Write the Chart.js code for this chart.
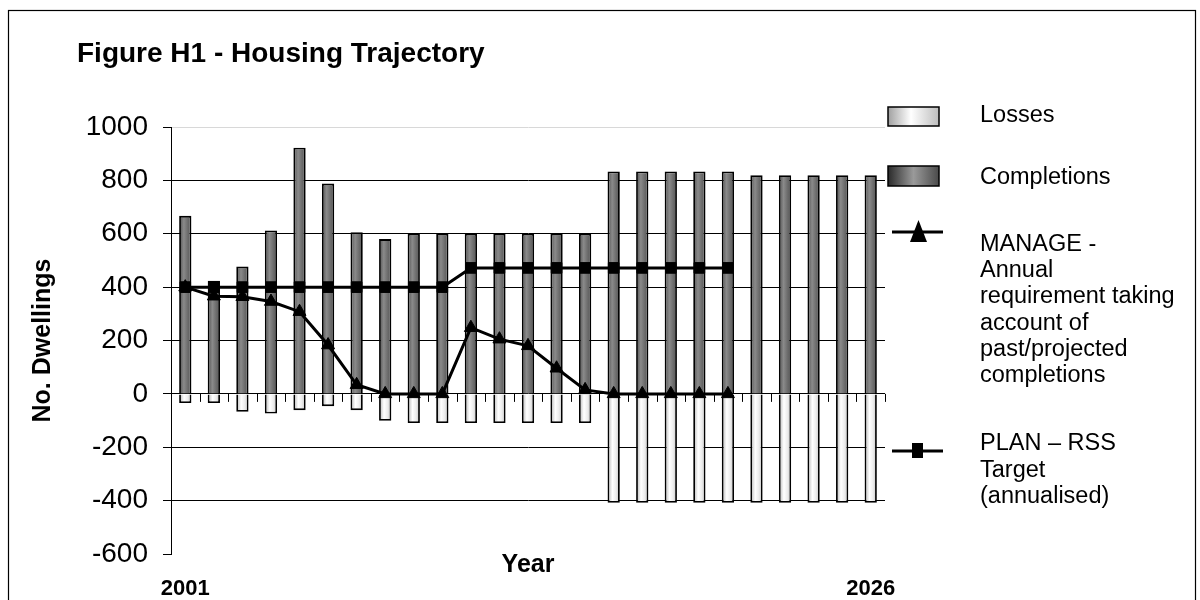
<!DOCTYPE html>
<html>
<head>
<meta charset="utf-8">
<title>Figure H1 - Housing Trajectory</title>
<script src="https://cdn.jsdelivr.net/npm/chart.js@4.4.1/dist/chart.umd.min.js"></script>
<style>
  html, body { margin: 0; padding: 0; background: #fff; }
  #wrap { width: 1200px; height: 600px; }
</style>
</head>
<body>
<div id="wrap"><canvas id="chart" width="1200" height="600"></canvas></div>
<script>
// monitoring years 2001/02 .. 2025/26
const years = [
  '2001/02', '2002/03', '2003/04', '2004/05', '2005/06', '2006/07', '2007/08',
  '2008/09', '2009/10', '2010/11', '2011/12', '2012/13', '2013/14', '2014/15',
  '2015/16', '2016/17', '2017/18', '2018/19', '2019/20', '2020/21', '2021/22',
  '2022/23', '2023/24', '2024/25', '2025/26'
];
// only the two ends are labelled on the chart
const yearTicks = [
  '2001', '', '', '', '', '', '', '', '', '', '', '', '',
  '', '', '', '', '', '', '', '', '', '', '', '2026'
];

const completions = [
  667, 424, 477, 612, 922, 788, 606, 580, 600, 600, 600, 600, 600,
  600, 600, 833, 833, 833, 833, 833, 819, 819, 819, 819, 819
];
const losses = [
  -34, -34, -67, -74, -61, -46, -61, -101, -109, -109, -109, -109, -109,
  -109, -109, -408, -408, -408, -408, -408, -408, -408, -408, -408, -408
];
const manage = [
  400, 366, 364, 346, 308, 183, 34, 0, 0, 0, 248, 205, 180,
  96, 15, 0, 0, 0, 0, 0, null, null, null, null, null
];
const plan = [
  400, 400, 400, 400, 400, 400, 400, 400, 400, 400, 472, 472, 472,
  472, 472, 472, 472, 472, 472, 472, null, null, null, null, null
];

const yMin = -600;
const yMax = 1000;
const yStep = 200;

const manageLines = ['MANAGE -', 'Annual', 'requirement taking', 'account of', 'past/projected', 'completions'];
const planLines = ['PLAN \u2013 RSS', 'Target', '(annualised)'];

const FONT = "'Liberation Sans', Arial, Helvetica, sans-serif";
const BAR_FRACTION = 0.43;

const compStops = [[0, '#505050'], [0.38, '#8a8a8a'], [0.7, '#6c6c6c'], [1, '#555555']];
const lossStops = [[0, '#b0b0b0'], [0.4, '#ffffff'], [0.7, '#ececec'], [1, '#c0c0c0']];

Chart.defaults.font.family = FONT;
Chart.defaults.color = '#000';

function barFill(stops, fallback) {
  return function (ctx) {
    const chart = ctx.chart;
    const xs = chart.scales.x;
    if (ctx.type !== 'data' || !xs) return fallback;
    const cx = xs.getPixelForValue(ctx.dataIndex);
    const half = (xs.width / years.length) * BAR_FRACTION / 2;
    if (!isFinite(cx) || !isFinite(half) || half <= 0) return fallback;
    const g = chart.ctx.createLinearGradient(cx - half, 0, cx + half, 0);
    stops.forEach(([p, col]) => g.addColorStop(p, col));
    return g;
  };
}

// frame, title and small tick marks on the zero line
const decorations = {
  id: 'decorations',
  beforeDatasetsDraw(chart) {
    const c = chart.ctx;
    const xs = chart.scales.x;
    const y0 = chart.scales.y.getPixelForValue(0);
    const step = xs.width / years.length;
    c.save();
    c.strokeStyle = '#000';
    c.lineWidth = 1;
    c.beginPath();
    for (let i = 1; i <= years.length; i++) {
      const x = Math.round(xs.left + i * step) + 0.5;
      c.moveTo(x, y0);
      c.lineTo(x, y0 + 8);
    }
    c.stroke();
    c.restore();
  },
  afterDraw(chart) {
    const c = chart.ctx;
    c.save();
    c.strokeStyle = '#000';
    c.lineWidth = 1.2;
    c.strokeRect(8.5, 10.5, 1187, 640);
    c.fillStyle = '#000';
    c.font = 'bold 28px ' + FONT;
    c.textBaseline = 'alphabetic';
    c.textAlign = 'left';
    c.fillText('Figure H1 - Housing Trajectory', 77, 62);
    c.restore();
  }
};

function swatch(c, x, y, w, h, stops) {
  const g = c.createLinearGradient(x, 0, x + w, 0);
  stops.forEach(([p, col]) => g.addColorStop(p, col));
  c.fillStyle = g;
  c.fillRect(x, y, w, h);
  c.lineWidth = 1.5;
  c.strokeStyle = '#000';
  c.strokeRect(x, y, w, h);
}

const sideLegend = {
  id: 'sideLegend',
  afterDraw(chart) {
    const c = chart.ctx;
    c.save();
    swatch(c, 888, 107, 51, 19, [[0, '#a0a0a0'], [0.45, '#ffffff'], [1, '#bdbdbd']]);
    swatch(c, 888, 166, 51, 20, [[0, '#2a2a2a'], [0.5, '#9a9a9a'], [1, '#4a4a4a']]);

    // MANAGE marker
    c.strokeStyle = '#000';
    c.fillStyle = '#000';
    c.lineWidth = 3;
    c.beginPath();
    c.moveTo(892, 232);
    c.lineTo(943, 232);
    c.stroke();
    c.beginPath();
    c.moveTo(918.5, 220);
    c.lineTo(927, 242);
    c.lineTo(910, 242);
    c.closePath();
    c.fill();

    // PLAN marker
    c.beginPath();
    c.moveTo(892, 451);
    c.lineTo(943, 451);
    c.stroke();
    c.fillRect(912, 443, 11, 15);

    c.font = '23.5px ' + FONT;
    c.textAlign = 'left';
    c.textBaseline = 'middle';
    c.fillText('Losses', 980, 116);
    c.fillText('Completions', 980, 178);
    manageLines.forEach((t, i) => c.fillText(t, 980, 244.5 + i * 26.2));
    planLines.forEach((t, i) => c.fillText(t, 980, 443.5 + i * 26.7));
    c.restore();
  }
};

new Chart(document.getElementById('chart'), {
  type: 'bar',
  data: {
    labels: years,
    datasets: [
      {
        type: 'line',
        label: 'MANAGE - Annual requirement taking account of past/projected completions',
        data: manage,
        borderColor: '#000',
        borderWidth: 3,
        pointStyle: 'triangle',
        pointRadius: 7.5,
        pointBackgroundColor: '#000',
        pointBorderColor: '#000',
        pointBorderWidth: 1,
        tension: 0,
        order: 1,
      },
      {
        type: 'line',
        label: 'PLAN \u2013 RSS Target (annualised)',
        data: plan,
        borderColor: '#000',
        borderWidth: 3,
        pointStyle: 'rect',
        pointRadius: 7.5,
        pointBackgroundColor: '#000',
        pointBorderColor: '#000',
        pointBorderWidth: 1,
        tension: 0,
        order: 2,
      },
      {
        label: 'Completions',
        data: completions,
        grouped: false,
        backgroundColor: barFill(compStops, '#707070'),
        borderColor: '#000',
        borderWidth: 1.8,
        categoryPercentage: BAR_FRACTION,
        barPercentage: 1,
        order: 3,
      },
      {
        label: 'Losses',
        data: losses,
        grouped: false,
        backgroundColor: barFill(lossStops, '#e8e8e8'),
        borderColor: '#000',
        borderWidth: 1.8,
        categoryPercentage: BAR_FRACTION,
        barPercentage: 1,
        order: 4,
      },
    ],
  },
  options: {
    responsive: false,
    animation: false,
    layout: { padding: { top: 127, right: 315, bottom: 0, left: 0 } },
    plugins: {
      legend: { display: false },
      title: { display: false },
      tooltip: { enabled: false },
    },
    scales: {
      x: {
        type: 'category',
        offset: true,
        weight: 0,
        grid: { display: false },
        border: { display: false },
        ticks: { display: false },
        title: {
          display: true,
          text: 'Year',
          font: { size: 25, weight: 'bold', lineHeight: 1 },
          padding: { top: 0, bottom: 0 },
        },
        afterFit(scale) { scale.height = 24; },
      },
      x2: {
        type: 'category',
        labels: yearTicks,
        offset: true,
        weight: 1,
        position: 'bottom',
        grid: { display: false, drawTicks: false },
        border: { display: false },
        ticks: {
          autoSkip: false,
          maxRotation: 0,
          padding: 0,
          font: { size: 22, weight: 'bold', lineHeight: 1 },
        },
        afterFit(scale) { scale.height = 22; },
      },
      y: {
        min: yMin,
        max: yMax,
        ticks: {
          stepSize: yStep,
          padding: 15,
          font: { size: 28 },
          callback: (v) => String(v),
        },
        grid: {
          color(ctx) {
            if (ctx.tick && ctx.tick.value === yMax) return '#d8d8d8';
            if (ctx.tick && ctx.tick.value === yMin) return 'rgba(0,0,0,0)';
            return '#000';
          },
          tickColor: '#000',
          tickLength: 8,
          lineWidth: 1,
        },
        border: { display: true, color: '#000', width: 1 },
        title: {
          display: true,
          text: 'No. Dwellings',
          font: { size: 25, weight: 'bold', lineHeight: 1 },
          padding: { top: 31, bottom: 0 },
        },
        afterFit(scale) { scale.width = 171; },
      },
    },
  },
  plugins: [decorations, sideLegend],
});
</script>
</body>
</html>
